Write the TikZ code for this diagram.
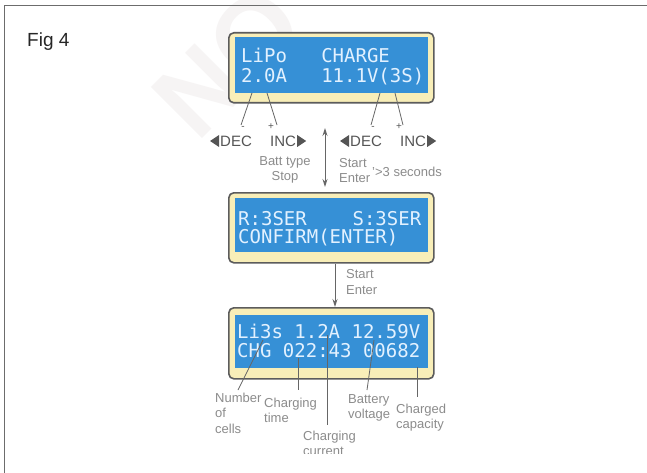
\documentclass[tikz,border=0pt]{standalone}
\usepackage{fontspec}
\setmainfont{Liberation Sans}
\newfontfamily\lcdfont{DejaVu Sans Mono}
\usetikzlibrary{arrows.meta,calc}
\definecolor{lcdblue}{HTML}{3690D6}
\definecolor{lcdyellow}{HTML}{F8EEB8}
\definecolor{framegray}{HTML}{5C5C5C}
\definecolor{lcdwhite}{HTML}{E2F1FF}
\definecolor{lblgray}{HTML}{8C8C8C}
\definecolor{keygray}{HTML}{555555}
\definecolor{linegray}{HTML}{666666}
\definecolor{wmgray}{HTML}{F6F4F4}
\begin{document}
\begin{tikzpicture}[x=1pt,y=-1pt,
  lcdframe/.style={draw=framegray, line width=1.6pt, fill=lcdyellow, rounded corners=5pt, inner sep=0pt, anchor=north west},
  lcdscreen/.style={fill=lcdblue, draw=none, inner sep=0pt, anchor=north west},
  lcdtext/.style={font=\lcdfont\fontsize{19}{19}\selectfont, text=lcdwhite, anchor=base west, inner sep=0pt},
  lbl/.style={font=\fontsize{13}{15.5}\selectfont, text=lblgray, align=left, anchor=base west, inner sep=0pt},
  keylbl/.style={font=\fontsize{15}{15}\selectfont, text=keygray, anchor=west, inner sep=0pt},
  sign/.style={font=\fontsize{10}{10}\selectfont, text=keygray, inner sep=0pt},
  conn/.style={draw=linegray, line width=0.8pt},
  arr/.style={draw=linegray, line width=0.9pt, -{Stealth[length=8pt,width=5pt]}},
  darr/.style={draw=linegray, line width=0.9pt, {Stealth[length=8pt,width=5pt]}-{Stealth[length=8pt,width=5pt]}},
]
\useasboundingbox (0,0) rectangle (647,473);
\fill[white] (0,0) rectangle (647,473);

% watermark
\node[rotate=45, font=\bfseries\fontsize{105}{105}\selectfont, text=wmgray] (wm) at (228,62) {NO};

% outer frame (top and left edges)
\draw[line width=1.8pt, color=framegray!90] (647,5.5) -- (4.5,5.5) -- (4.5,473);

\node[font=\fontsize{19}{19}\selectfont, text=black!85, anchor=base west, inner sep=0pt] (fig) at (27,47) {Fig 4};

% LCD 1
\node[lcdframe, minimum width=205pt, minimum height=70pt] (lcdA) at (228,32) {};
\node[lcdscreen, minimum width=193pt, minimum height=56pt] (scrA) at (235,37) {};
\node[lcdtext] (tA1) at (241,63) {LiPo~~~CHARGE};
\node[lcdtext] (tA2) at (241,83) {2.0A~~~11.1V(3S)};

% LCD 2
\node[lcdframe, minimum width=205pt, minimum height=70pt] (lcdB) at (228,192) {};
\node[lcdscreen, minimum width=193pt, minimum height=54pt] (scrB) at (235,198) {};
\node[lcdtext] (tB1) at (238,225) {R:3SER~~~~S:3SER};
\node[lcdtext] (tB2) at (238,243) {CONFIRM(ENTER)};

% LCD 3
\node[lcdframe, minimum width=205pt, minimum height=71pt] (lcdC) at (228,307) {};
\node[lcdscreen, minimum width=193pt, minimum height=53pt] (scrC) at (235,315) {};
\node[lcdtext] (tC1) at (237,338) {Li3s~1.2A~12.59V};
\node[lcdtext] (tC2) at (237,357) {CHG~022:43~00682};

% DEC / INC connectors
\coordinate (pA1) at (252,93);
\coordinate (pA2) at (267,93);
\coordinate (pB1) at (380,93);
\coordinate (pB2) at (395,93);
\coordinate (eA1) at (241,125);
\coordinate (eA2) at (277,125);
\coordinate (eB1) at (371,125);
\coordinate (eB2) at (403,125);
\draw[conn] (pA1) -- (eA1);
\draw[conn] (pA2) -- (eA2);
\draw[conn] (pB1) -- (eB1);
\draw[conn] (pB2) -- (eB2);
\node[sign] (mA) at (243,128) {-};
\node[sign] (plA) at (271,127) {+};
\node[sign] (mB) at (373,128) {-};
\node[sign] (plB) at (399,127) {+};

\node[keylbl] (decA) at (220,141) {DEC};
\node[keylbl] (incA) at (270,141) {INC};
\node[keylbl] (decB) at (350,141) {DEC};
\node[keylbl] (incB) at (400,141) {INC};
\fill[keygray] ($(decA.west)+(-1,-6)$) -- ++(0,12) -- ++(-9,-6) -- cycle;
\fill[keygray] ($(incA.east)+(1,-6)$) -- ++(0,12) -- ++(9,-6) -- cycle;
\fill[keygray] ($(decB.west)+(-1,-6)$) -- ++(0,12) -- ++(-9,-6) -- cycle;
\fill[keygray] ($(incB.east)+(1,-6)$) -- ++(0,12) -- ++(9,-6) -- cycle;

% double arrow between LCD1 and LCD2
\coordinate (da1) at (325,128);
\coordinate (da2) at (325,187);
\draw[darr] (da1) -- (da2);
\node[lbl, align=center, anchor=base] (batt) at (285,180.5) {Batt type\\Stop};
\node[lbl] (start1) at (339,182.5) {Start\\Enter};
\node[lbl] (sec) at (372,176) {'>3 seconds};

% arrow LCD2 -> LCD3
\coordinate (ax) at (335,0);
\draw[arr] (lcdB.south -| ax) -- (lcdC.north -| ax);
\node[lbl] (start2) at (346,294) {Start\\Enter};

% bottom annotations
\begin{scope}
\clip (0,0) rectangle (647,453);
\coordinate (c1a) at (263,340); \coordinate (c1b) at (238,390);
\coordinate (c2a) at (298,358); \coordinate (c2b) at (298,390);
\coordinate (c3a) at (327,335); \coordinate (c3b) at (327,425);
\coordinate (c4a) at (374,340); \coordinate (c4b) at (367,390);
\coordinate (c5a) at (417,367); \coordinate (c5b) at (417,397);
\draw[conn] (c1a) -- (c1b);
\draw[conn] (c2a) -- (c2b);
\draw[conn] (c3a) -- (c3b);
\draw[conn] (c4a) -- (c4b);
\draw[conn] (c5a) -- (c5b);
\node[lbl] (ncells) at (215,433) {Number\\of\\cells};
\node[lbl] (ctime) at (264,422.5) {Charging\\time};
\node[lbl] (ccur) at (303,455.5) {Charging\\current};
\node[lbl] (bvolt) at (348,418.5) {Battery\\voltage};
\node[lbl] (ccap) at (396,428.5) {Charged\\capacity};
\end{scope}
\end{tikzpicture}
\end{document}
